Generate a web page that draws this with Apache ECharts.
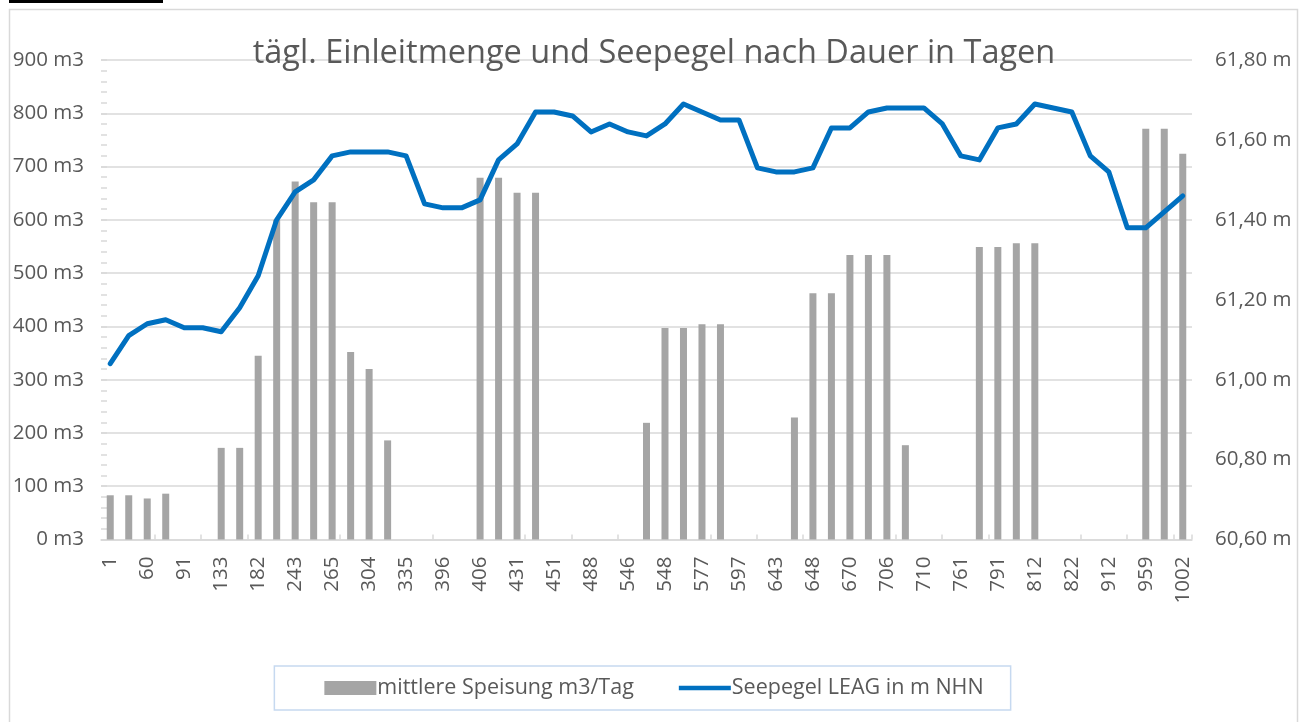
<!DOCTYPE html>
<html><head><meta charset="utf-8">
<script src="https://cdn.jsdelivr.net/npm/echarts@6/dist/echarts.min.js"></script>
<style>html,body{margin:0;padding:0;background:#fff}#c{width:1308px;height:722px}</style>
</head><body><div id="c"></div>
<script>
const days = ['1','','60','','91','','133','','182','','243','','265','','304','','335','','396','','406','','431','','451','','488','','546','','548','','577','','597','','643','','648','','670','','706','','710','','761','','791','','812','','822','','912','','959','','1002'];
const speisung = [83,83,77,86,null,null,172,172,345,600,672,633,633,352,320,186,null,null,null,null,679,679,651,651,null,null,null,null,null,219,397,397,404,404,null,null,null,229,462,462,534,534,534,177,null,null,null,549,549,556,556,null,null,null,null,null,771,771,724];
const pegel = [61.04,61.11,61.14,61.15,61.13,61.13,61.12,61.18,61.26,61.40,61.47,61.50,61.56,61.57,61.57,61.57,61.56,61.44,61.43,61.43,61.45,61.55,61.59,61.67,61.67,61.66,61.62,61.64,61.62,61.61,61.64,61.69,61.67,61.65,61.65,61.53,61.52,61.52,61.53,61.63,61.63,61.67,61.68,61.68,61.68,61.64,61.56,61.55,61.63,61.64,61.69,61.68,61.67,61.56,61.52,61.38,61.38,61.42,61.46];
const leftTicks = {min:0, max:900, interval:100};
const rightTicks = {min:60.6, max:61.8, interval:0.2};
const titleText = 'tägl. Einleitmenge und Seepegel nach Dauer in Tagen';
const nameBar = 'mittlere Speisung m3/Tag';
const nameLine = 'Seepegel LEAG in m NHN';

const FONT = 'Open Sans';
const TXT = '#595959';
const GRID = '#D9D9D9';
const chart = echarts.init(document.getElementById('c'), null, {renderer:'canvas'});
chart.setOption({
  animation:false,
  textStyle:{fontFamily:FONT},
  title:{text:titleText, left:'center', top:32, textStyle:{fontFamily:FONT, fontSize:32.5, fontWeight:'normal', color:TXT}},
  graphic:[
    {type:'rect', shape:{x:9.5,y:9.5,width:1288,height:730}, style:{fill:null, stroke:GRID, lineWidth:1.5}, z:-10},
    {type:'rect', shape:{x:9,y:0,width:154,height:3}, style:{fill:'#000'}}
  ],
  legend:{
    left:'center', bottom:12, padding:[11,27,11,50], itemGap:45, itemWidth:52, itemHeight:14,
    borderColor:'#C6D9F0', borderWidth:1.5,
    textStyle:{fontFamily:FONT, fontSize:21.5, color:TXT, padding:[0,0,0,-4]},
    data:[{name:nameBar, icon:'rect'},
          {name:nameLine, icon:'path://M0,0 M0,4.7 L52,4.7 L52,9.3 L0,9.3 Z M52,14', itemStyle:{color:'#0070C0'}}]
  },
  grid:[
    {left:101, right:116, top:60, bottom:182.5},
    {left:108.5, right:116, top:60, bottom:182.5}
  ],
  xAxis:[
    {type:'category', data:days, gridIndex:0, boundaryGap:true,
     axisLine:{show:true, lineStyle:{color:GRID, width:1.5}},
     axisTick:{show:false},
     axisLabel:{interval:1, rotate:90, margin:17, fontSize:20.5, color:TXT, fontFamily:FONT}},
    {type:'value', gridIndex:1, min:0, max:23.4, interval:1,
     axisLine:{show:false}, axisLabel:{show:false}, splitLine:{show:false},
     axisTick:{show:true, inside:true, length:5, lineStyle:{color:GRID, width:1.5}}}
  ],
  yAxis:[
    {type:'value', gridIndex:0, min:leftTicks.min, max:leftTicks.max, interval:leftTicks.interval, position:'left',
     axisLine:{show:false},
     axisTick:{show:true, inside:true, length:6, lineStyle:{color:GRID, width:1.5}},
     minorTick:{show:true, splitNumber:5, length:6, lineStyle:{color:GRID, width:1.5}},
     splitLine:{show:true, lineStyle:{color:GRID, width:1.5}},
     axisLabel:{formatter:'{value} m3', margin:17, fontSize:20.5, color:TXT, fontFamily:FONT}},
    {type:'value', gridIndex:0, min:rightTicks.min, max:rightTicks.max, interval:rightTicks.interval, position:'right',
     axisLine:{show:false}, axisTick:{show:false}, splitLine:{show:false},
     axisLabel:{formatter:v=>v.toFixed(2).replace('.',',')+' m', margin:23, fontSize:20.5, color:TXT, fontFamily:FONT}},
    {type:'value', gridIndex:1, show:false}
  ],
  series:[
    {name:nameBar, type:'bar', xAxisIndex:0, yAxisIndex:0, data:speisung, barWidth:7,
     itemStyle:{color:'#A5A5A5'}},
    {name:nameLine, type:'line', xAxisIndex:0, yAxisIndex:1, data:pegel, symbol:'none', showSymbol:false,
     lineStyle:{color:'#0070C0', width:5, cap:'round', join:'round'}, itemStyle:{color:'#0070C0'}}
  ]
});
</script></body></html>
